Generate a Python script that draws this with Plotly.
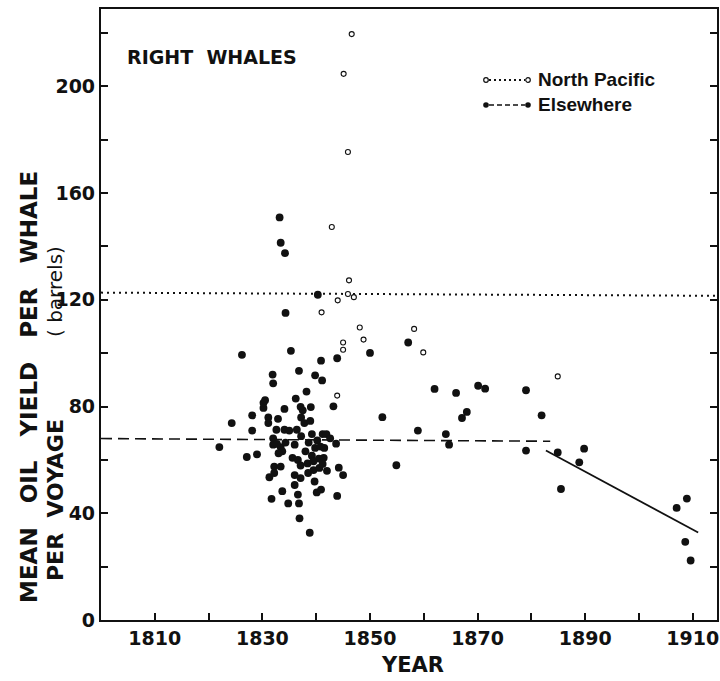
import plotly.graph_objects as go

# ---------------- data ----------------
elsewhere_year = [
    1822.0, 1824.3, 1826.2, 1827.1, 1828.1, 1828.1, 1829.0, 1830.2, 1830.2, 1830.5,
    1831.1, 1831.1, 1831.3, 1831.7, 1831.9, 1832.0, 1832.0, 1832.0, 1832.2, 1832.2,
    1832.6, 1832.9, 1833.2, 1833.4, 1833.4, 1833.4, 1833.7, 1834.2, 1834.3, 1834.1,
    1834.1, 1833.7, 1834.3, 1835.0, 1834.8, 1835.3, 1835.6, 1836.0, 1836.0, 1836.0,
    1836.2, 1836.4, 1836.6, 1836.6, 1836.8, 1837.1, 1837.2, 1837.2, 1837.1, 1837.1,
    1836.8, 1836.9, 1837.5, 1837.8, 1838.0, 1838.2, 1838.4, 1838.5, 1838.8, 1838.9,
    1839.0, 1839.2, 1839.2, 1839.5, 1839.7, 1839.8, 1840.3, 1840.1, 1840.2, 1840.5,
    1840.9, 1841.1, 1840.9, 1841.2, 1841.4, 1841.9, 1842.0, 1842.6, 1843.2, 1843.9,
    1843.7, 1843.9, 1844.2, 1845.0,
    1839.8, 1840.8, 1838.6, 1841.5, 1839.5, 1840.6, 1841.2, 1833.0, 1832.7,
    1850.0, 1852.3, 1854.9, 1857.1, 1858.9, 1862.0, 1864.1, 1864.7, 1866.0, 1867.1,
    1868.0, 1870.1, 1871.4, 1879.0, 1879.0, 1881.9, 1884.9, 1885.5, 1888.9, 1889.8,
    1907.0, 1908.9, 1908.6, 1909.6,
]
elsewhere_oil = [
    64.8, 73.8, 99.4, 61.1, 76.7, 71.0, 62.1, 81.4, 79.5, 82.4,
    75.9, 73.8, 53.5, 45.4, 92.0, 88.7, 68.1, 65.7, 57.5, 55.1,
    71.3, 75.4, 150.9, 141.4, 64.8, 57.5, 48.3, 137.5, 115.1, 79.1,
    71.3, 63.2, 66.5, 71.0, 43.7, 100.9, 60.8, 50.6, 65.7, 54.3,
    83.0, 71.3, 60.0, 47.0, 93.4, 79.9, 75.9, 68.9, 57.9, 53.2,
    43.7, 38.1, 78.6, 73.8, 63.2, 85.6, 58.7, 55.1, 32.7, 74.6,
    79.8, 69.7, 61.6, 56.2, 51.9, 91.7, 121.9, 47.8, 67.3, 60.5,
    97.2, 89.8, 48.9, 69.7, 60.8, 69.7, 55.9, 68.1, 80.1, 98.1,
    66.1, 46.5, 57.1, 54.3,
    64.5, 65.0, 66.5, 64.5, 59.5, 57.0, 58.5, 62.5, 66.0,
    100.1, 76.0, 58.0, 104.0, 71.0, 86.6, 69.7, 65.7, 85.1, 75.7,
    78.0, 87.8, 86.7, 86.1, 63.5, 76.7, 62.8, 49.1, 59.1, 64.2,
    42.0, 45.5, 29.3, 22.3,
]

north_pacific_year = [1846.6, 1845.1, 1845.9, 1842.9, 1846.1, 1845.9, 1847.0, 1844.0, 1841.0,
                      1848.1, 1848.8, 1845.0, 1845.0, 1858.2, 1859.9, 1843.9, 1884.9]
north_pacific_oil = [219.6, 204.7, 175.4, 147.3, 127.3, 122.2, 121.0, 119.8, 115.3,
                     109.6, 105.1, 104.0, 101.3, 109.1, 100.3, 84.1, 91.3]

# reference lines (mean / trend)
np_mean_year = [1800, 1914.5]
np_mean_oil = [122.7, 121.5]
else_mean_year = [1800, 1883.5]
else_mean_oil = [68.0, 67.0]
else_trend_year = [1882.7, 1911.0]
else_trend_oil = [63.5, 32.8]

x_ticks = [1810, 1820, 1830, 1840, 1850, 1860, 1870, 1880, 1890, 1900, 1910]
x_ticktext = ["1810", "", "1830", "", "1850", "", "1870", "", "1890", "", "1910"]
y_ticks = [0, 20, 40, 60, 80, 100, 120, 140, 160, 180, 200, 220]
y_ticktext = ["0", "", "40", "", "80", "", "120", "", "160", "", "200", ""]

# ---------------- layout helpers ----------------
W, H = 720, 681
L, R, T, B = 101, 3, 9, 61
PW, PH = W - L - R, H - T - B


def px(xp):
    return (xp - L) / PW


def py(yp):
    return (H - B - yp) / PH


FONT = "DejaVu Sans"
FONT2 = "Liberation Sans"
BLACK = "#111111"
NB = "\u00a0"

fig = go.Figure()

fig.add_trace(go.Scatter(x=np_mean_year, y=np_mean_oil, mode="lines",
                         line=dict(color=BLACK, width=2, dash="2px,4px"),
                         hoverinfo="skip", showlegend=False))
fig.add_trace(go.Scatter(x=else_mean_year, y=else_mean_oil, mode="lines",
                         line=dict(color=BLACK, width=1.6, dash="11px,6px"),
                         hoverinfo="skip", showlegend=False))
fig.add_trace(go.Scatter(x=else_trend_year, y=else_trend_oil, mode="lines",
                         line=dict(color=BLACK, width=1.8),
                         hoverinfo="skip", showlegend=False))
fig.add_trace(go.Scatter(x=north_pacific_year, y=north_pacific_oil, mode="markers",
                         name="North Pacific",
                         marker=dict(symbol="circle", size=5, color="white",
                                     line=dict(color=BLACK, width=1.1)),
                         showlegend=False))
fig.add_trace(go.Scatter(x=elsewhere_year, y=elsewhere_oil, mode="markers",
                         name="Elsewhere",
                         marker=dict(symbol="circle", size=7.8, color=BLACK,
                                     line=dict(width=0)),
                         showlegend=False))

axis_common = dict(showgrid=False, zeroline=False, showline=True, linecolor=BLACK,
                   linewidth=2.2, ticks="inside", ticklen=7, tickwidth=2,
                   tickcolor=BLACK, automargin=False,
                   tickfont=dict(family=FONT, size=19, color=BLACK, weight="bold"))

fig.update_xaxes(range=[1800, 1914.5], tickmode="array", tickvals=x_ticks,
                 ticktext=x_ticktext, mirror=True, **axis_common)
fig.update_yaxes(range=[0, 229], tickmode="array", tickvals=y_ticks,
                 ticktext=y_ticktext, mirror="ticks", **axis_common)

shapes = []
annotations = []

# legend: North Pacific (dotted with open circles), Elsewhere (dashed with dots)
ly1, ly2 = 80, 105
shapes.append(dict(type="line", xref="paper", yref="paper", x0=px(489), x1=px(525),
                   y0=py(ly1), y1=py(ly1), line=dict(color=BLACK, width=2, dash="2px,3px")))
shapes.append(dict(type="line", xref="paper", yref="paper", x0=px(489), x1=px(525),
                   y0=py(ly2), y1=py(ly2), line=dict(color=BLACK, width=1.6, dash="5px,3px")))
for cx in (486, 528):
    shapes.append(dict(type="circle", xref="paper", yref="paper",
                       x0=px(cx - 2.3), x1=px(cx + 2.3), y0=py(ly1 + 2.3), y1=py(ly1 - 2.3),
                       fillcolor="white", line=dict(color=BLACK, width=1.2)))
    shapes.append(dict(type="circle", xref="paper", yref="paper",
                       x0=px(cx - 2.8), x1=px(cx + 2.8), y0=py(ly2 + 2.8), y1=py(ly2 - 2.8),
                       fillcolor=BLACK, line=dict(color=BLACK, width=0)))

annotations.append(dict(text="North Pacific", xref="paper", yref="paper", x=px(536), y=py(ly1),
                        xanchor="left", yanchor="middle", showarrow=False,
                        font=dict(family=FONT2, size=19, color=BLACK, weight="bold")))
annotations.append(dict(text="Elsewhere", xref="paper", yref="paper", x=px(536), y=py(ly2),
                        xanchor="left", yanchor="middle", showarrow=False,
                        font=dict(family=FONT2, size=19, color=BLACK, weight="bold")))
annotations.append(dict(text="RIGHT" + NB * 2 + "WHALES", xref="paper", yref="paper",
                        x=px(125), y=py(57),
                        xanchor="left", yanchor="middle", showarrow=False,
                        font=dict(family=FONT, size=19, color=BLACK, weight="bold")))
annotations.append(dict(text="YEAR", xref="paper", yref="paper", x=px(413), y=py(665),
                        xanchor="center", yanchor="middle", showarrow=False,
                        font=dict(family=FONT, size=21, color=BLACK, weight="bold")))
gap = NB * 3
annotations.append(dict(text=gap.join(["MEAN", "OIL", "YIELD", "PER", "WHALE"]),
                        xref="paper", yref="paper",
                        x=px(29), y=py(387), xanchor="center", yanchor="middle",
                        textangle=-90, showarrow=False,
                        font=dict(family=FONT, size=23, color=BLACK, weight="bold")))
annotations.append(dict(text="PER" + NB * 2 + "VOYAGE", xref="paper", yref="paper",
                        x=px(55), y=py(500), xanchor="center", yanchor="middle",
                        textangle=-90, showarrow=False,
                        font=dict(family=FONT, size=22, color=BLACK, weight="bold")))
annotations.append(dict(text="(" + NB + "barrels)", xref="paper", yref="paper",
                        x=px(55), y=py(292), xanchor="center", yanchor="middle",
                        textangle=-90, showarrow=False,
                        font=dict(family=FONT, size=20, color=BLACK)))

fig.update_layout(width=W, height=H, margin=dict(l=L, r=R, t=T, b=B, autoexpand=False),
                  paper_bgcolor="white", plot_bgcolor="white",
                  shapes=shapes, annotations=annotations, showlegend=False)

fig.write_html("out.html", config={"displayModeBar": False},
               post_script="document.body.style.margin='0';document.body.style.padding='0';")
